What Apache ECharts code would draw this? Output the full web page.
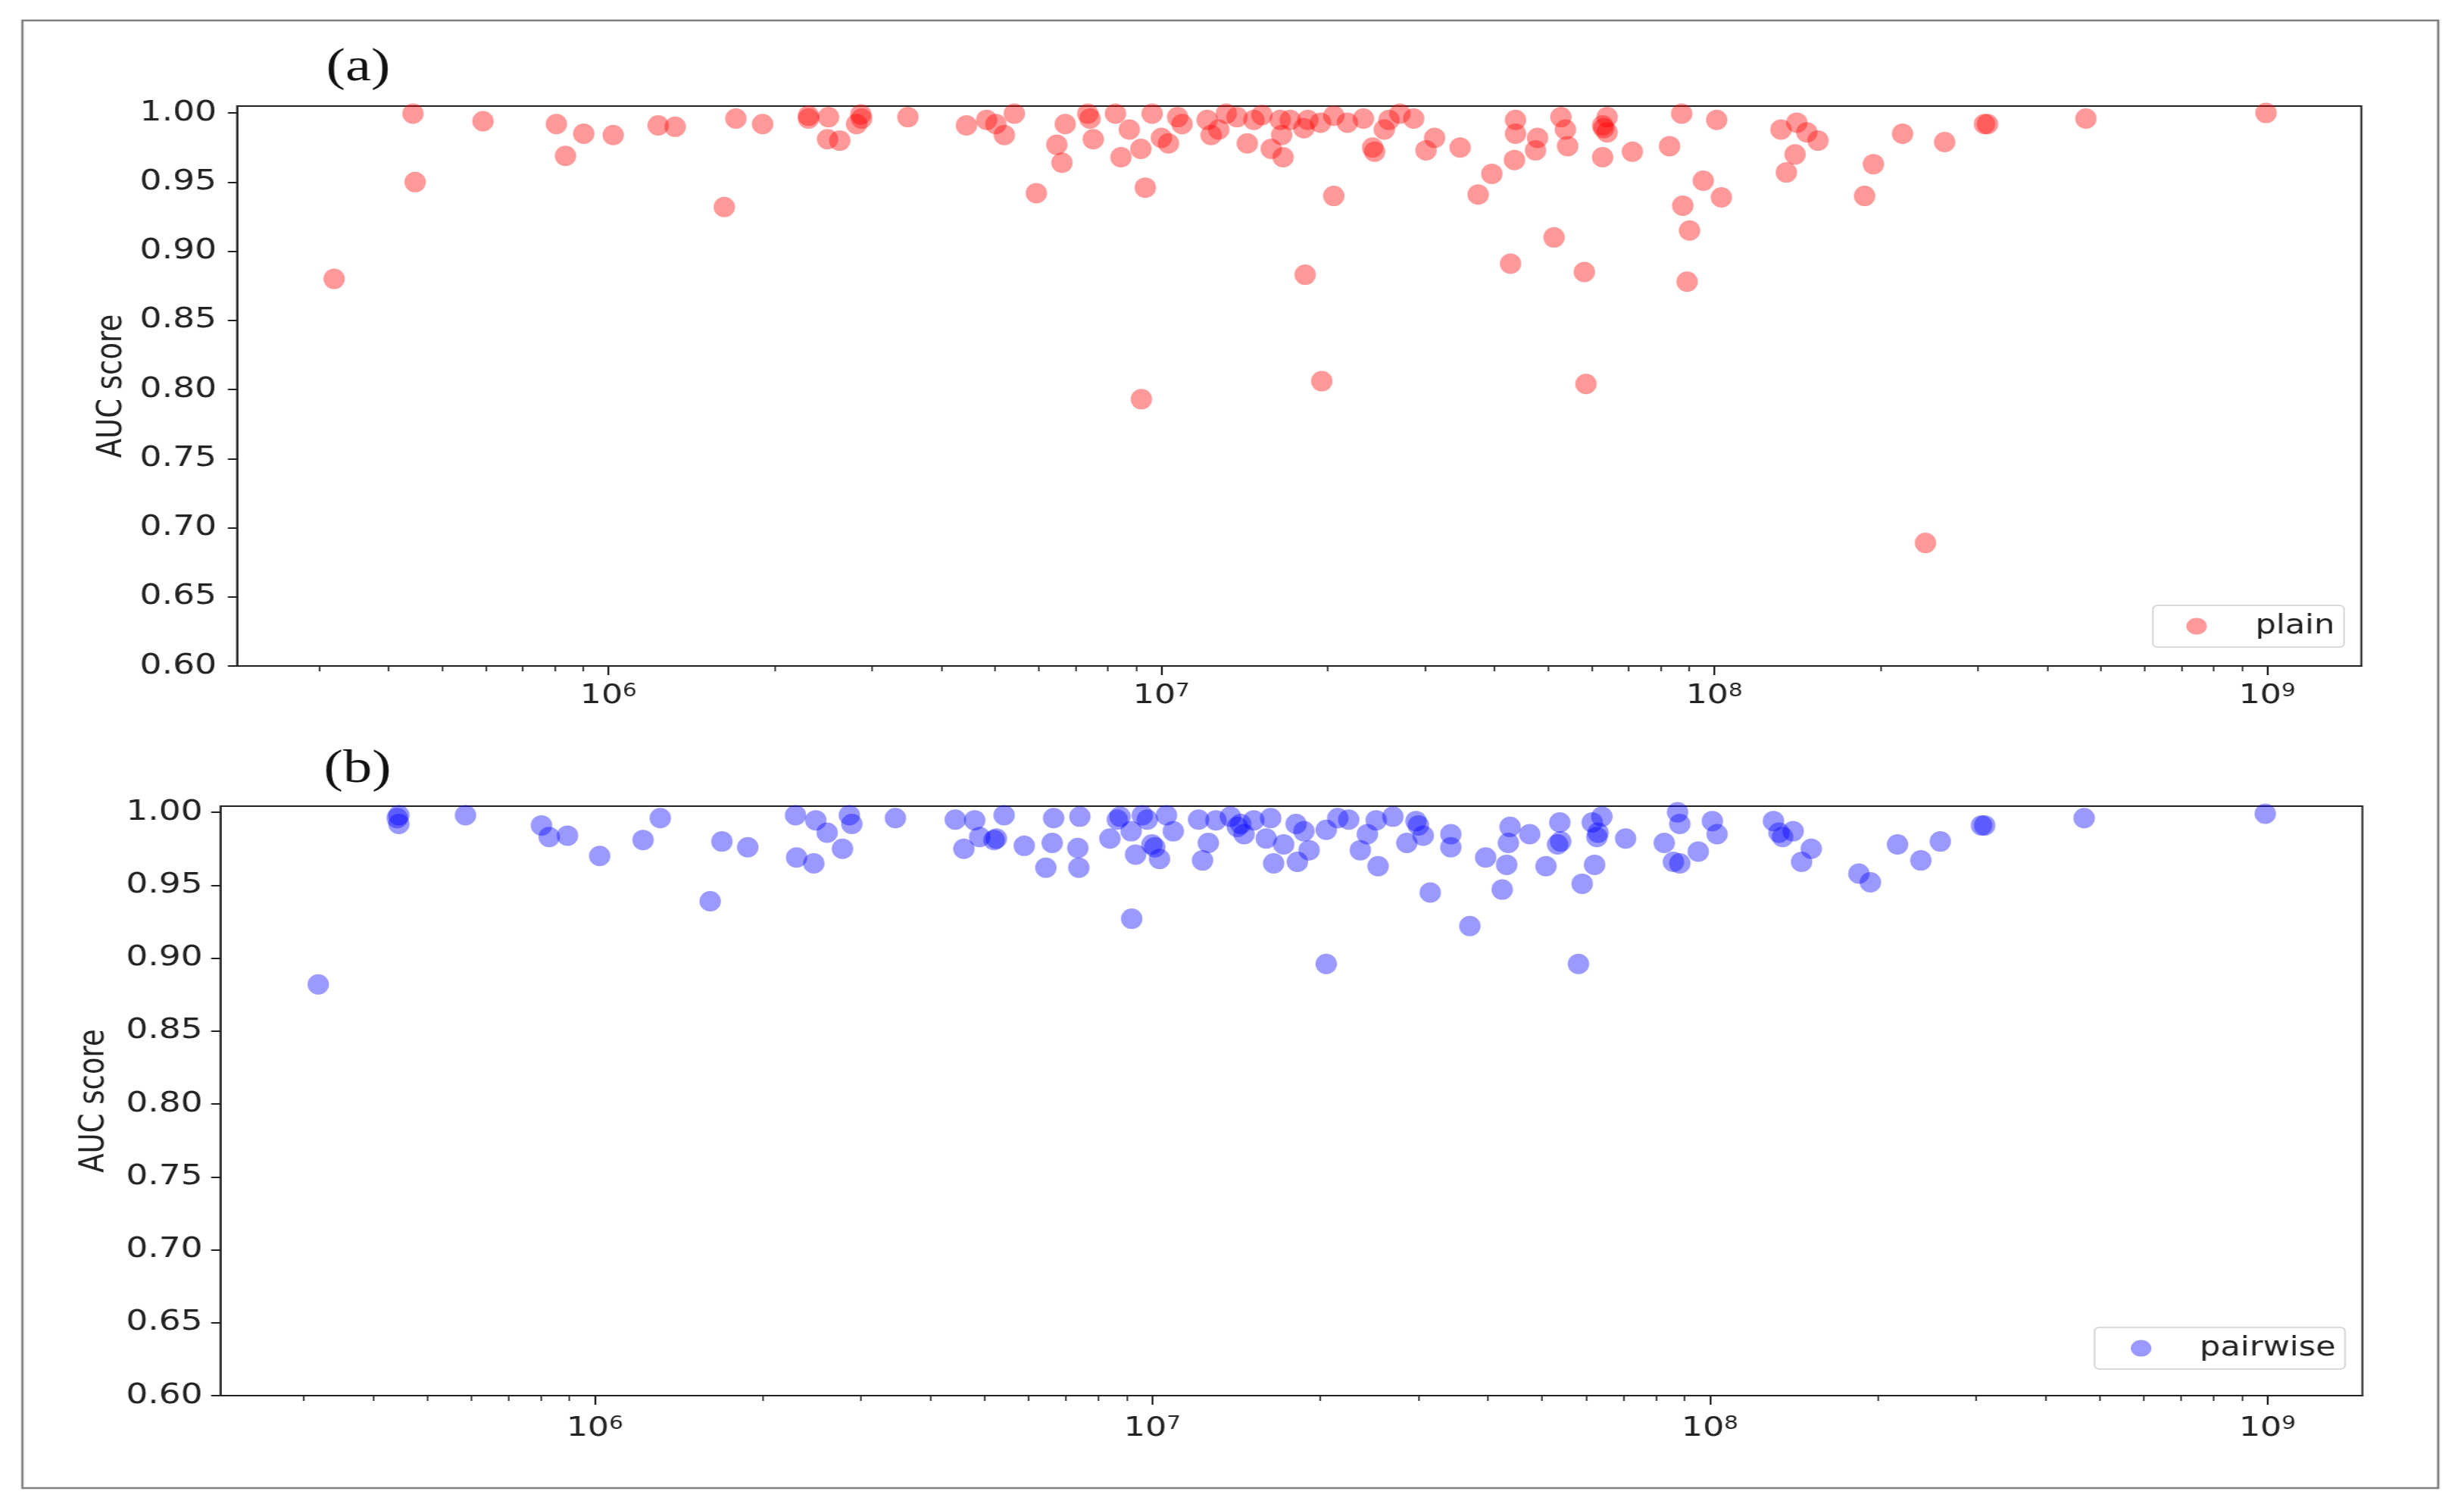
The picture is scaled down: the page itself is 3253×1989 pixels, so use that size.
<!DOCTYPE html>
<html lang="en">

<head>
    <meta charset="UTF-8">
    <title>AUC score</title>
    <script src="https://cdn.jsdelivr.net/npm/echarts@6.0.0/dist/echarts.min.js"></script>
    <style>
        body { margin: 0; background: #fff; overflow: hidden; }
        /* the source figure is stretched sideways, so the chart is drawn narrower and scaled in x */
        #chart { width: 2645px; height: 1989px; transform: scaleX(1.23); transform-origin: 0 0; }
    </style>
</head>

<body>
    <div id="chart"></div>
    <script>
        // (a) plain
        var plainX = [
            3.19e5, 4.43e5, 4.47e5, 5.93e5, 8.05e5, 8.36e5, 9.02e5, 1.02e6, 1.23e6, 1.32e6,
            1.62e6, 1.70e6, 1.90e6, 2.30e6, 2.30e6, 2.50e6, 2.49e6, 2.62e6, 2.86e6, 2.87e6,
            2.81e6, 3.48e6, 4.44e6, 4.83e6, 5.02e6, 5.42e6, 5.20e6, 5.94e6, 6.47e6, 6.61e6,
            6.70e6, 7.36e6, 7.43e6, 7.53e6, 8.26e6, 8.75e6, 8.45e6, 9.18e6, 9.35e6, 9.62e6,
            1.00e7, 1.03e7, 1.07e7, 1.09e7, 1.21e7, 1.23e7, 1.27e7, 1.31e7, 1.37e7, 1.43e7,
            1.47e7, 1.52e7, 1.58e7, 1.64e7, 1.65e7, 1.66e7, 1.71e7, 1.81e7, 1.84e7, 1.94e7,
            2.05e7, 2.05e7, 2.17e7, 2.32e7, 2.53e7, 2.58e7, 2.41e7, 2.43e7, 2.70e7, 2.86e7,
            3.12e7, 3.01e7, 3.47e7, 3.74e7, 3.96e7, 4.35e7, 4.37e7, 4.37e7, 4.79e7, 4.75e7,
            5.28e7, 5.38e7, 5.43e7, 5.13e7, 6.28e7, 6.31e7, 6.40e7, 6.40e7, 6.28e7, 7.11e7,
            4.28e7, 5.82e7, 1.82e7, 9.20e6, 1.95e7, 5.86e7, 8.73e7, 1.01e8, 8.30e7, 9.55e7,
            1.03e8, 8.77e7, 9.02e7, 8.93e7, 1.32e8, 1.41e8, 1.47e8, 1.54e8, 1.40e8, 1.35e8,
            2.19e8, 1.94e8, 1.87e8, 2.61e8, 3.08e8, 3.12e8, 4.70e8, 9.95e8, 2.41e8
        ]
        var plainY = [
            0.880, 0.9995, 0.950, 0.994, 0.992, 0.969, 0.985, 0.984, 0.991, 0.990,
            0.932, 0.996, 0.992, 0.998, 0.996, 0.997, 0.981, 0.980, 0.999, 0.996,
            0.992, 0.997, 0.991, 0.995, 0.992, 0.9995, 0.984, 0.942, 0.977, 0.964,
            0.992, 0.9995, 0.996, 0.981, 0.9995, 0.988, 0.968, 0.974, 0.946, 0.9995,
            0.982, 0.978, 0.997, 0.992, 0.995, 0.984, 0.988, 0.9995, 0.997, 0.978,
            0.995, 0.9985, 0.974, 0.995, 0.984, 0.968, 0.995, 0.989, 0.995, 0.993,
            0.998, 0.940, 0.993, 0.996, 0.988, 0.995, 0.975, 0.972, 0.9995, 0.996,
            0.982, 0.973, 0.975, 0.941, 0.956, 0.966, 0.995, 0.985, 0.982, 0.973,
            0.997, 0.988, 0.976, 0.910, 0.991, 0.989, 0.997, 0.986, 0.968, 0.972,
            0.891, 0.885, 0.883, 0.793, 0.806, 0.804, 0.9995, 0.995, 0.976, 0.951,
            0.939, 0.933, 0.915, 0.878, 0.988, 0.993, 0.986, 0.980, 0.970, 0.957,
            0.985, 0.963, 0.940, 0.979, 0.992, 0.992, 0.996, 1.000, 0.689
        ]

        // (b) pairwise
        var pairwiseX = [
            3.19e5, 4.45e5, 4.45e5, 4.42e5, 5.86e5, 8.02e5, 8.28e5, 8.93e5, 1.02e6, 1.22e6,
            1.31e6, 1.61e6, 1.69e6, 1.88e6, 2.29e6, 2.49e6, 2.61e6, 2.30e6, 2.47e6, 2.78e6,
            2.86e6, 2.89e6, 3.46e6, 4.43e6, 4.80e6, 4.59e6, 4.90e6, 5.20e6, 5.25e6, 5.42e6,
            5.89e6, 6.44e6, 6.61e6, 6.65e6, 7.41e6, 7.35e6, 7.38e6, 8.39e6, 8.65e6, 8.75e6,
            9.16e6, 9.33e6, 9.59e6, 9.79e6, 9.98e6, 1.01e7, 1.03e7, 1.06e7, 1.09e7, 1.21e7,
            1.23e7, 1.26e7, 1.30e7, 1.38e7, 1.42e7, 1.44e7, 1.46e7, 1.52e7, 1.60e7, 1.63e7,
            1.65e7, 1.72e7, 1.81e7, 1.82e7, 1.91e7, 1.87e7, 2.05e7, 2.15e7, 2.25e7, 2.36e7,
            2.43e7, 2.52e7, 2.54e7, 2.70e7, 2.86e7, 2.97e7, 3.00e7, 3.06e7, 3.15e7, 3.43e7,
            3.43e7, 3.71e7, 3.96e7, 4.32e7, 4.35e7, 4.38e7, 4.24e7, 4.75e7, 5.08e7, 5.38e7,
            5.33e7, 5.40e7, 5.90e7, 6.21e7, 6.27e7, 6.30e7, 6.40e7, 6.15e7, 7.06e7, 9.18e6,
            2.05e7, 5.81e7, 8.75e7, 8.83e7, 8.28e7, 9.53e7, 8.83e7, 8.60e7, 1.01e8, 1.03e8,
            1.30e8, 1.35e8, 1.33e8, 1.41e8, 1.52e8, 1.46e8, 1.85e8, 1.94e8, 2.17e8, 2.39e8,
            2.59e8, 3.07e8, 3.11e8, 4.69e8, 9.91e8
        ]
        var pairwiseY = [
            0.882, 0.998, 0.992, 0.996, 0.998, 0.991, 0.983, 0.984, 0.970, 0.981,
            0.996, 0.939, 0.980, 0.976, 0.998, 0.9945, 0.986, 0.969, 0.965, 0.975,
            0.998, 0.992, 0.996, 0.995, 0.9945, 0.975, 0.983, 0.981, 0.982, 0.998,
            0.977, 0.962, 0.979, 0.996, 0.997, 0.9755, 0.962, 0.982, 0.995, 0.997,
            0.987, 0.971, 0.998, 0.995, 0.978, 0.976, 0.968, 0.998, 0.987, 0.995,
            0.967, 0.979, 0.9945, 0.997, 0.990, 0.992, 0.985, 0.9945, 0.982, 0.996,
            0.965, 0.978, 0.992, 0.966, 0.974, 0.987, 0.988, 0.996, 0.995, 0.974,
            0.985, 0.9945, 0.963, 0.997, 0.979, 0.994, 0.991, 0.984, 0.945, 0.985,
            0.976, 0.922, 0.969, 0.964, 0.979, 0.990, 0.947, 0.985, 0.963, 0.993,
            0.978, 0.980, 0.951, 0.964, 0.983, 0.986, 0.997, 0.993, 0.982, 0.927,
            0.896, 0.896, 1.000, 0.992, 0.979, 0.973, 0.965, 0.966, 0.994, 0.985,
            0.994, 0.983, 0.986, 0.987, 0.975, 0.966, 0.958, 0.952, 0.978, 0.967,
            0.980, 0.991, 0.991, 0.996, 0.999
        ]

        // axis ticks
        var xMajorTicks = [1e6, 1e7, 1e8, 1e9]
        var xMinorTicks = [
            3e5, 4e5, 5e5, 6e5, 7e5, 8e5, 9e5,
            2e6, 3e6, 4e6, 5e6, 6e6, 7e6, 8e6, 9e6,
            2e7, 3e7, 4e7, 5e7, 6e7, 7e7, 8e7, 9e7,
            2e8, 3e8, 4e8, 5e8, 6e8, 7e8, 8e8, 9e8
        ]
        var yTicks = [0.60, 0.65, 0.70, 0.75, 0.80, 0.85, 0.90, 0.95, 1.00]

        var font = 'DejaVu Sans'
        var ink = '#222'

        function zip(xs, ys) {
            return xs.map(function(x, i) { return [x, ys[i]] })
        }

        function powLabel(v) {
            var e = Math.round(Math.log(v) / Math.LN10)
            return '{b|10}{s|' + e + '}'
        }

        function xAxes(grid, labelMargin) {
            return [{
                type: 'log', logBase: 10, gridIndex: grid, position: 'bottom',
                min: 2.13e5, max: 1.48e9,
                axisLine: { lineStyle: { color: ink, width: 2 } },
                axisTick: { customValues: xMajorTicks, length: 12, lineStyle: { color: ink, width: 2 } },
                axisLabel: {
                    customValues: xMajorTicks, margin: labelMargin, formatter: powLabel,
                    rich: {
                        b: { fontFamily: font, fontSize: 36, color: ink },
                        s: { fontFamily: font, fontSize: 24, color: ink, verticalAlign: 'top' }
                    }
                },
                splitLine: { show: false }
            }, {
                // minor ticks
                type: 'log', logBase: 10, gridIndex: grid, position: 'bottom',
                min: 2.13e5, max: 1.48e9,
                axisLine: { show: false },
                axisTick: { customValues: xMinorTicks, length: 7, lineStyle: { color: ink, width: 1.6 } },
                axisLabel: { show: false },
                splitLine: { show: false }
            }]
        }

        function yAxis(grid, yMax, labelMargin, nameGap) {
            return {
                type: 'value', gridIndex: grid, min: 0.6, max: yMax,
                name: 'AUC score', nameLocation: 'middle', nameGap: nameGap, nameRotate: 90,
                nameTextStyle: { fontFamily: font, fontSize: 37, color: ink },
                axisLine: { show: true, lineStyle: { color: ink, width: 2 } },
                axisTick: { show: true, customValues: yTicks, length: 10, lineStyle: { color: ink, width: 2 } },
                axisLabel: {
                    customValues: yTicks, margin: labelMargin,
                    fontFamily: font, fontSize: 37, color: ink,
                    formatter: function(v) { return v.toFixed(2) }
                },
                splitLine: { show: false }
            }
        }

        function legendBox(name, right, top, padLeft) {
            return {
                data: [name], right: right, top: top, icon: 'circle',
                itemWidth: 22, itemHeight: 24, selectedMode: false,
                padding: [10, 10, 10, padLeft],
                backgroundColor: '#fff', borderColor: '#cfcfcf', borderWidth: 1.5, borderRadius: 5,
                textStyle: { fontFamily: font, fontSize: 35, color: ink, padding: [0, 0, 0, 47] }
            }
        }

        var mCharts = echarts.init(document.getElementById('chart'))

        var option = {
            animation: false,
            backgroundColor: '#fff',
            grid: [
                { left: 254.5, top: 140, width: 2280, height: 739, show: true, borderColor: ink, borderWidth: 2 },
                { left: 236.6, top: 1064, width: 2299, height: 778, show: true, borderColor: ink, borderWidth: 2 }
            ],
            xAxis: xAxes(0, 22).concat(xAxes(1, 26)),
            yAxis: [
                yAxis(0, 1.005, 22, 116),
                yAxis(1, 1.0042, 19, 117)
            ],
            legend: [
                legendBox('plain', 129, 799, 36),
                legendBox('pairwise', 128, 1752, 39)
            ],
            graphic: [
                { type: 'rect', silent: true, shape: { x: 24, y: 27, width: 2593, height: 1937 },
                  style: { fill: 'none', stroke: '#808080', lineWidth: 2.5 } },
                { type: 'text', x: 384.5, y: 90,
                  style: { text: '(a)', fontFamily: 'Liberation Serif', fontSize: 62, fill: '#111', align: 'center', verticalAlign: 'middle' } },
                { type: 'text', x: 383.7, y: 1016,
                  style: { text: '(b)', fontFamily: 'Liberation Serif', fontSize: 62, fill: '#111', align: 'center', verticalAlign: 'middle' } }
            ],
            series: [{
                name: 'plain', type: 'scatter', xAxisIndex: 0, yAxisIndex: 0,
                data: zip(plainX, plainY), symbolSize: [23, 27],
                itemStyle: { color: 'rgba(255, 0, 0, 0.5)' }
            }, {
                name: 'pairwise', type: 'scatter', xAxisIndex: 2, yAxisIndex: 1,
                data: zip(pairwiseX, pairwiseY), symbolSize: [23, 27],
                itemStyle: { color: 'rgba(0, 0, 255, 0.5)' }
            }]
        }
        mCharts.setOption(option)
    </script>
</body>

</html>
